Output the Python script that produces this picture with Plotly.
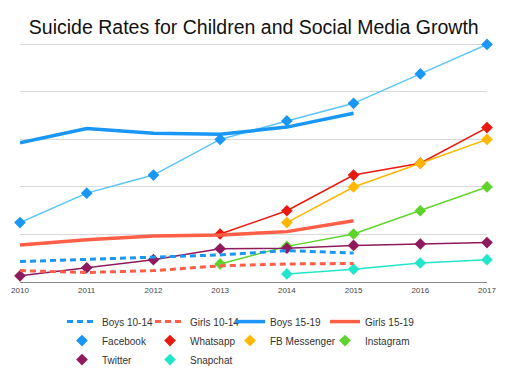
import plotly.graph_objects as go

years = [2010, 2011, 2012, 2013, 2014, 2015, 2016, 2017]
tick_labels = ["2010", "2011", "2012", "2013", "2014", "2015", "2016", "2017"]

# Suicide rates (relative scale)
boys_10_14 = [4.3, 4.8, 5.3, 5.7, 6.6, 6.1]
girls_10_14 = [2.4, 2.0, 2.4, 3.4, 3.8, 3.9]
boys_15_19 = [29.3, 32.3, 31.3, 31.1, 32.6, 35.5]
girls_15_19 = [7.8, 8.9, 9.7, 9.9, 10.6, 12.9]
suicide_years = years[:6]

# Social media growth (relative scale)
facebook = [12.5, 18.7, 22.5, 30.0, 33.9, 37.6, 43.8, 50.0]
whatsapp_years = [2013, 2014, 2015, 2016, 2017]
whatsapp = [10.1, 15.0, 22.5, 25.0, 32.5]
messenger_years = [2014, 2015, 2016, 2017]
messenger = [12.5, 20.0, 25.0, 30.0]
instagram_years = [2013, 2014, 2015, 2016, 2017]
instagram = [3.8, 7.5, 10.1, 15.0, 20.0]
twitter = [1.3, 3.0, 4.7, 7.0, 7.1, 7.7, 8.0, 8.3]
snapchat_years = [2014, 2015, 2016, 2017]
snapchat = [1.7, 2.7, 4.0, 4.7]

fig = go.Figure()

def line_trace(x, y, name, color, width, dash, legend):
    fig.add_trace(go.Scatter(x=x, y=y, name=name, mode="lines",
                             line=dict(color=color, width=width, dash=dash),
                             legend=legend, cliponaxis=False))

def media_trace(x, y, name, line_color, marker_color, legend):
    fig.add_trace(go.Scatter(x=x, y=y, mode="lines", showlegend=False,
                             line=dict(color=line_color, width=1.5),
                             cliponaxis=False, hoverinfo="skip"))
    fig.add_trace(go.Scatter(x=x, y=y, name=name, mode="markers",
                             marker=dict(symbol="diamond", size=9, color=marker_color),
                             legend=legend, cliponaxis=False))

media_trace(years, facebook, "Facebook", "#5AC4FA", "#1A96F5", "legend")
media_trace(whatsapp_years, whatsapp, "Whatsapp", "#E8190E", "#E8190E", "legend2")
media_trace(messenger_years, messenger, "FB Messenger", "#FFB700", "#FFB700", "legend3")
media_trace(instagram_years, instagram, "Instagram", "#5ED42A", "#5ED42A", "legend4")
media_trace(years, twitter, "Twitter", "#8F1A5E", "#8F1A5E", "legend")
media_trace(snapchat_years, snapchat, "Snapchat", "#22E6C9", "#22E6C9", "legend2")

line_trace(suicide_years, boys_10_14, "Boys 10-14", "#1A96F5", 3, "6px,4px", "legend")
line_trace(suicide_years, girls_10_14, "Girls 10-14", "#FF5E47", 3, "6px,4px", "legend2")
line_trace(suicide_years, boys_15_19, "Boys 15-19", "#1A96F5", 3.5, "solid", "legend3")
line_trace(suicide_years, girls_15_19, "Girls 15-19", "#FF5E47", 3.5, "solid", "legend4")

order = ["Boys 10-14", "Girls 10-14", "Boys 15-19", "Girls 15-19",
         "Facebook", "Whatsapp", "FB Messenger", "Instagram", "Twitter", "Snapchat"]
for t in fig.data:
    if t.name in order:
        t.legendrank = order.index(t.name) + 1

legend_font = dict(family="Liberation Sans, Arial, sans-serif", size=10, color="#333333")
common = dict(orientation="v", yanchor="top", xanchor="left", y=-0.105,
              font=legend_font, bgcolor="rgba(0,0,0,0)", tracegroupgap=0,
              itemwidth=30)

fig.update_layout(
    width=512, height=375,
    margin=dict(l=12, r=33, t=35, b=101, autoexpand=False),
    paper_bgcolor="white", plot_bgcolor="white",
    title=dict(text="Suicide Rates for Children and Social Media Growth",
               x=0.48, xanchor="center", y=0.95, yanchor="middle",
               font=dict(family="Liberation Sans, Arial, sans-serif", size=19.5, color="#111111")),
    xaxis=dict(range=[2010, 2017], tickvals=years, ticktext=tick_labels, automargin=False,
               showgrid=False, zeroline=False, showline=True, linecolor="#888888",
               linewidth=1, ticks="", tickfont=dict(family="Liberation Sans, Arial, sans-serif",
                                                     size=8, color="#444444")),
    yaxis=dict(range=[0, 50.3], tickvals=[10, 20, 30, 40, 50], showticklabels=False,
               showgrid=True, automargin=False,
               gridcolor="#D9D9D9", gridwidth=1, zeroline=False, showline=False),
    showlegend=True,
    legend=dict(x=0.0899, **common),
    legend2=dict(x=0.2784, **common),
    legend3=dict(x=0.4497, **common),
    legend4=dict(x=0.6531, **common),
)

fig.write_html("out.html")
